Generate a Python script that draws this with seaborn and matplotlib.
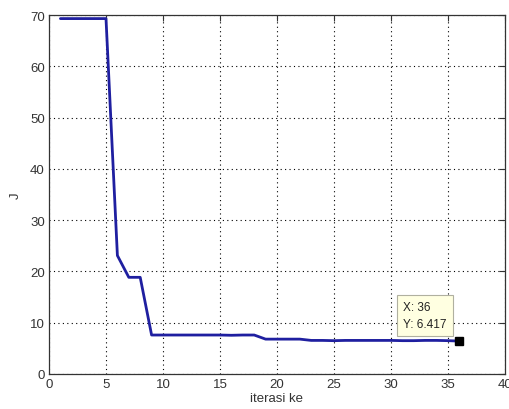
import matplotlib
matplotlib.use("Agg")
import matplotlib.pyplot as plt
import seaborn as sns
import pandas as pd

iterasi = list(range(1, 37))
J = [69.3, 69.3, 69.3, 69.3, 69.3, 23.1, 18.85, 18.85, 7.6, 7.6,
     7.6, 7.6, 7.6, 7.6, 7.6, 7.55, 7.6, 7.6, 6.8, 6.8,
     6.8, 6.8, 6.55, 6.55, 6.5, 6.55, 6.55, 6.55, 6.55, 6.55,
     6.5, 6.5, 6.55, 6.55, 6.5, 6.417]
tip_x, tip_y = 36, 6.417
x_label = "iterasi ke"
y_label = "J"

sns.set_style("white")
plt.rcParams['font.family'] = ['Liberation Sans', 'DejaVu Sans']

df = pd.DataFrame({"iterasi": iterasi, "J": J})

fig = plt.figure(figsize=(5.1, 4.1), dpi=100)
ax = fig.add_axes([49/510, 35/410, 456/510, 359/410])
sns.lineplot(data=df, x="iterasi", y="J", ax=ax, color="#1f1fa0", linewidth=2.0)
ax.plot([tip_x], [tip_y], marker="s", color="black", markersize=6, linestyle="none")
ax.annotate(f"X: {tip_x}\nY: {tip_y}", xy=(tip_x, tip_y), xytext=(-9, 8),
            textcoords="offset points", ha="right", va="bottom", fontsize=8.5,
            multialignment="left", color="#222222", linespacing=1.6,
            bbox=dict(boxstyle="square,pad=0.5", fc="#ffffe1", ec="#b0b0a0", lw=0.8))

ax.set_xlim(0, 40)
ax.set_ylim(0, 70)
ax.set_xticks(range(0, 41, 5))
ax.set_yticks(range(0, 71, 10))
ax.grid(True, linestyle=(0, (1, 3)), color="black", linewidth=0.8)
ax.tick_params(direction="in", length=4, top=True, right=True, labelsize=9.5,
               colors="#333333", labelcolor="#333333", pad=3)
for s in ax.spines.values():
    s.set_color("#333333")
    s.set_linewidth(0.9)
ax.set_xlabel(x_label, fontsize=9.5, color="#333333", labelpad=1)
ax.set_ylabel(y_label, fontsize=9.5, color="#333333", labelpad=6)
fig.savefig("out.png", dpi=100)
